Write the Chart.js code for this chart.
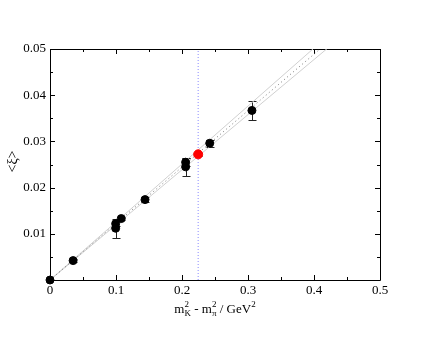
<!DOCTYPE html>
<html>
<head>
<meta charset="utf-8">
<script src="https://cdn.jsdelivr.net/npm/chart.js@4.4.1/dist/chart.umd.min.js"></script>
<style>
html,body{margin:0;padding:0;background:#fff;}
#wrap{width:440px;height:340px;position:relative;}
</style>
</head>
<body>
<div id="wrap"><canvas id="c" width="440" height="340"></canvas></div>
<script>
// ---- data ----
const pointX   = [0, 0.035, 0.0995, 0.0995, 0.108, 0.144, 0.2055, 0.2055, 0.242, 0.306];
const pointY   = [0, 0.0042, 0.0122, 0.0112, 0.0133, 0.0174, 0.0255, 0.0245, 0.0296, 0.0367];
const pointErr = [0, 0.0003, 0.0006, 0.0021, 0.0004, 0.0005, 0.0008, 0.0020, 0.0008, 0.0021];
const physX = [0.2245];
const physY = [0.0272];
const physErr = [0.0004];
const bandUpperX = [0, 0.40];
const bandUpperY = [0, 0.0502];
const bandLowerX = [0, 0.42];
const bandLowerY = [0, 0.0501];
const fitX = [0, 0.41];
const fitY = [0, 0.0501];
const markerX = [0.2245, 0.2245];
const markerY = [0, 0.05];
const xTicks = [0, 0.1, 0.2, 0.3, 0.4, 0.5];
const yTicks = [0.01, 0.02, 0.03, 0.04, 0.05];

const toPts = (xs, ys) => xs.map((x, i) => ({x, y: ys[i]}));
const FONT = "'Liberation Serif', 'Times New Roman', serif";

const frameTicks = {
  id: 'frameTicks',
  beforeDatasetsDraw(chart) {
    const {ctx, chartArea: a, scales: {x, y}} = chart;
    ctx.save();
    ctx.strokeStyle = '#000';
    ctx.lineWidth = 1;
    ctx.beginPath();
    ctx.rect(Math.round(a.left) + 0.5, Math.round(a.top) + 0.5,
             Math.round(a.right - a.left), Math.round(a.bottom - a.top));
    ctx.stroke();
    ctx.beginPath();
    for (let v = 0; v <= 0.5 + 1e-9; v += 0.05) {
      const px = Math.round(x.getPixelForValue(v)) + 0.5;
      const major = Math.abs(v * 10 - Math.round(v * 10)) < 1e-6;
      const len = major ? 5 : 3;
      ctx.moveTo(px, a.bottom); ctx.lineTo(px, a.bottom - len);
      ctx.moveTo(px, a.top); ctx.lineTo(px, a.top + len);
    }
    for (let v = 0; v <= 0.05 + 1e-9; v += 0.005) {
      const py = Math.round(y.getPixelForValue(v)) + 0.5;
      const major = Math.abs(v * 100 - Math.round(v * 100)) < 1e-6;
      const len = major ? 5 : 3;
      ctx.moveTo(a.left, py); ctx.lineTo(a.left + len, py);
      ctx.moveTo(a.right, py); ctx.lineTo(a.right - len, py);
    }
    ctx.stroke();

    // error bars
    ctx.strokeStyle = '#222';
    const draw = (xs, ys, es) => {
      xs.forEach((xv, i) => {
        if (!es[i]) return;
        const px = Math.round(x.getPixelForValue(xv)) + 0.5;
        const y1 = Math.round(y.getPixelForValue(ys[i] + es[i])) + 0.5;
        const y2 = Math.round(y.getPixelForValue(ys[i] - es[i])) + 0.5;
        ctx.beginPath();
        ctx.moveTo(px, y1); ctx.lineTo(px, y2);
        ctx.moveTo(px - 4, y1); ctx.lineTo(px + 4, y1);
        ctx.moveTo(px - 4, y2); ctx.lineTo(px + 4, y2);
        ctx.stroke();
      });
    };
    draw(pointX, pointY, pointErr);
    draw(physX, physY, physErr);
    ctx.restore();
  }
};

const titles = {
  id: 'titles',
  afterDraw(chart) {
    const {ctx, chartArea: a} = chart;
    ctx.save();
    ctx.fillStyle = '#000';
    ctx.textBaseline = 'alphabetic';
    const big = '13px ' + FONT, small = '9px ' + FONT;
    const parts = [
      ['m', big, 0], ['2', small, -6, 'K', 3],
      [' - m', big, 0], ['2', small, -6, 'π', 3],
      [' / GeV', big, 0], ['2', small, -6]
    ];
    let w = 0;
    const widths = parts.map(p => {
      ctx.font = p[1];
      let ww = ctx.measureText(p[0]).width;
      if (p[3]) ww = Math.max(ww, ctx.measureText(p[3]).width);
      w += ww;
      return ww;
    });
    let cx = (a.left + a.right) / 2 - w / 2;
    const base = 313;
    parts.forEach((p, i) => {
      ctx.font = p[1];
      ctx.textAlign = 'left';
      ctx.fillText(p[0], cx, base + p[2]);
      if (p[3]) ctx.fillText(p[3], cx, base + p[4]);
      cx += widths[i];
    });
    ctx.font = '14px ' + FONT;
    ctx.translate(13, (a.top + a.bottom) / 2 - 3);
    ctx.rotate(-Math.PI / 2);
    ctx.textAlign = 'center';
    ctx.textBaseline = 'middle';
    ctx.fillText('<ξ>', 0, 0);
    ctx.restore();
  }
};

new Chart(document.getElementById('c'), {
  type: 'scatter',
  data: {
    datasets: [
      {type: 'line', order: 5, data: toPts(bandUpperX, bandUpperY), borderColor: '#d0d0d0', borderWidth: 1, pointRadius: 0, fill: false},
      {type: 'line', order: 5, data: toPts(bandLowerX, bandLowerY), borderColor: '#d0d0d0', borderWidth: 1, pointRadius: 0, fill: false},
      {type: 'line', order: 4, data: toPts(fitX, fitY), borderColor: '#777', borderWidth: 1, borderDash: [1, 3], pointRadius: 0, fill: false},
      {type: 'line', order: 3, data: toPts(markerX, markerY), borderColor: '#8a8aff', borderWidth: 1, borderDash: [1, 2], pointRadius: 0, fill: false},
      {order: 1, clip: false, data: toPts(pointX, pointY), backgroundColor: '#000', borderColor: '#000', pointRadius: 4, pointStyle: 'circle'},
      {order: 0, clip: false, data: toPts(physX, physY), backgroundColor: '#ff0000', borderColor: '#ff0000', pointRadius: 4.5, pointStyle: 'circle'}
    ]
  },
  options: {
    responsive: false,
    animation: false,
    events: [],
    layout: {padding: {left: 0, top: 49, right: 60, bottom: 0}},
    plugins: {legend: {display: false}, tooltip: {enabled: false}},
    scales: {
      x: {
        type: 'linear', min: 0, max: 0.5,
        afterFit: s => { s.height = 60; },
        afterBuildTicks: s => { s.ticks = xTicks.map(v => ({value: v})); },
        grid: {display: false, drawTicks: false},
        border: {display: false},
        ticks: {color: '#000', font: {family: FONT, size: 13}, padding: 3, maxRotation: 0,
                callback: v => String(v)}
      },
      y: {
        type: 'linear', min: 0, max: 0.05,
        afterFit: s => { s.width = 50; },
        afterBuildTicks: s => { s.ticks = yTicks.map(v => ({value: v})); },
        grid: {display: false, drawTicks: false},
        border: {display: false},
        ticks: {color: '#000', font: {family: FONT, size: 13}, padding: 4,
                callback: v => v.toFixed(2)}
      }
    }
  },
  plugins: [frameTicks, titles]
});
</script>
</body>
</html>
